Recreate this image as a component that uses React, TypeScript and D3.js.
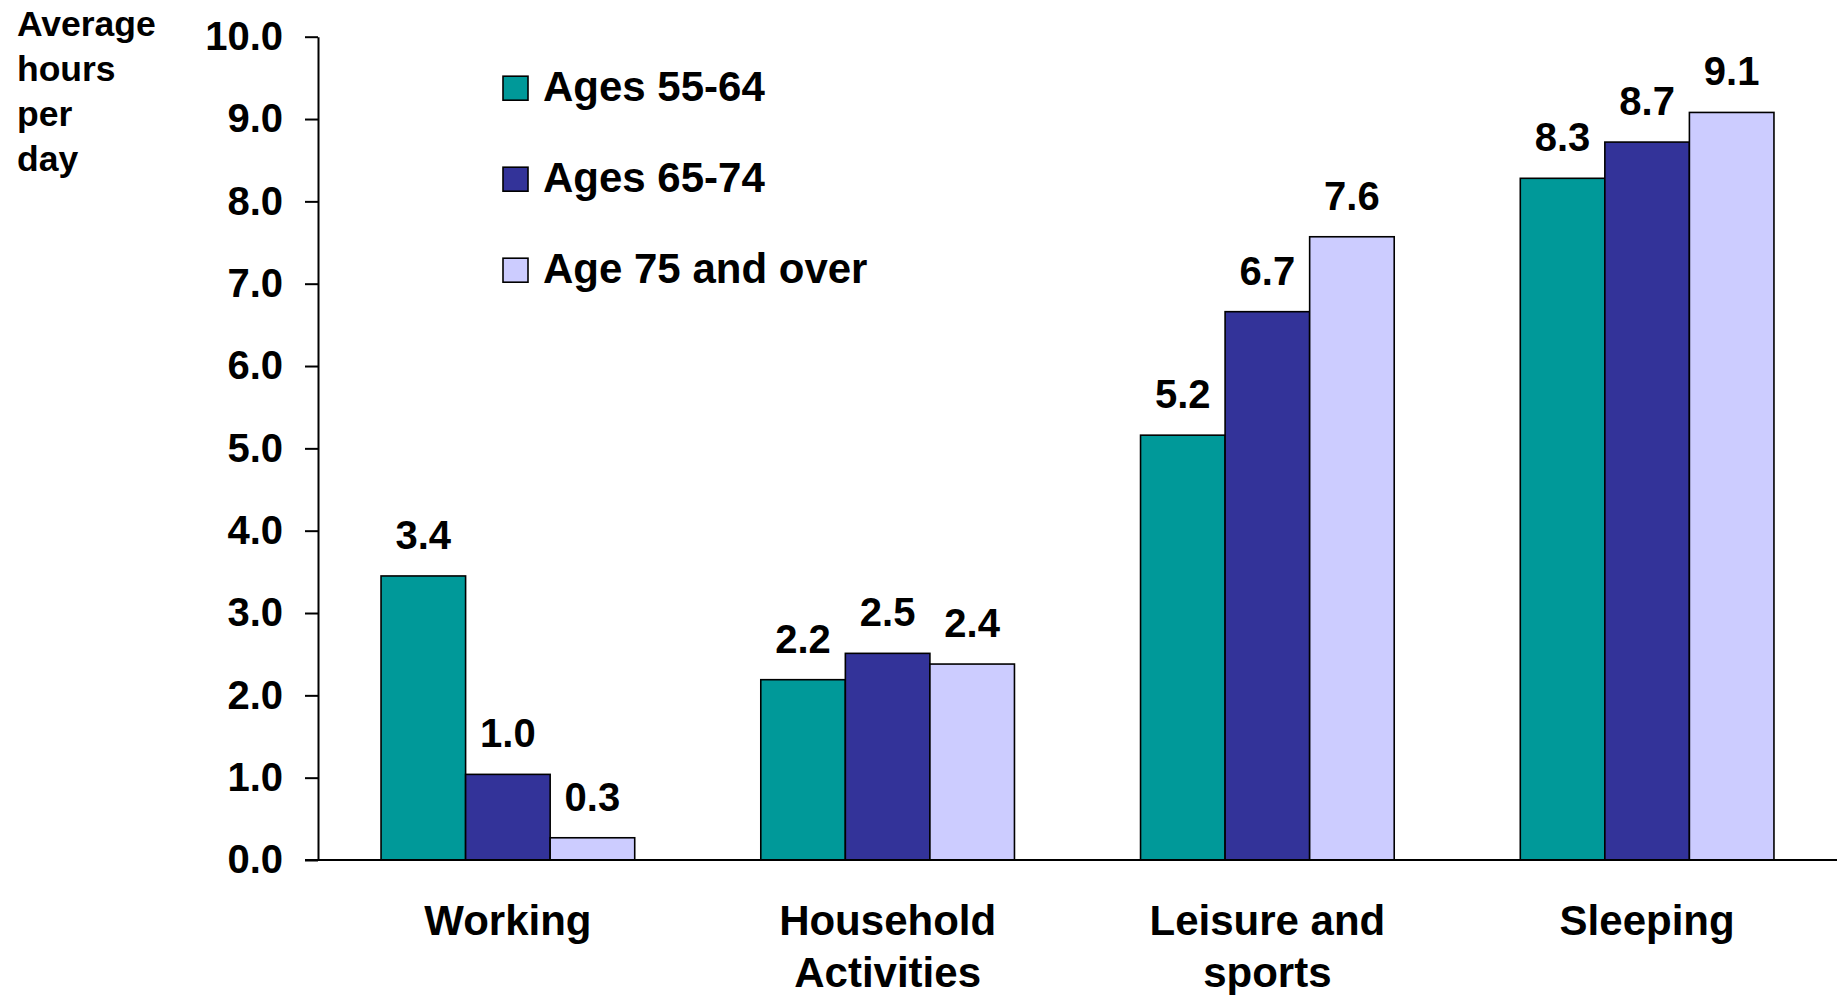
import React, { useEffect, useRef } from 'react';
import * as d3 from 'd3';

const categories = [['Working'], ['Household', 'Activities'], ['Leisure and', 'sports'], ['Sleeping']];
const seriesNames = ['Ages 55-64', 'Ages 65-74', 'Age 75 and over'];
const seriesColors = ['#009999', '#333399', '#CCCCFF'];
const ages5564 = [3.45, 2.19, 5.16, 8.28];
const ages6574 = [1.04, 2.51, 6.66, 8.72];
const ages75 = [0.27, 2.38, 7.57, 9.08];
const valueLabels = [
  ['3.4', '1.0', '0.3'],
  ['2.2', '2.5', '2.4'],
  ['5.2', '6.7', '7.6'],
  ['8.3', '8.7', '9.1'],
];
const yTicks = [0, 1, 2, 3, 4, 5, 6, 7, 8, 9, 10];
const yTitle = ['Average', 'hours', 'per', 'day'];

const W = 1840;
const H = 995;
const font = 'Liberation Sans, Arial, sans-serif';

const App = () => {
  const ref = useRef(null);

  useEffect(() => {
    const svg = d3.select(ref.current);
    svg.selectAll('*').remove();

    const left = 318;
    const right = 1837;
    const y = d3.scaleLinear().domain([0, 10]).range([860, 36.7]);
    const x0 = d3.scaleBand().domain(categories.map((c, i) => String(i))).range([left, right]).paddingInner(0.332).paddingOuter(0.166);
    const x1 = d3.scaleBand().domain(seriesNames).range([0, x0.bandwidth()]);

    const series = [ages5564, ages6574, ages75];

    // bars
    categories.forEach((cat, ci) => {
      const g = svg.append('g').attr('transform', `translate(${x0(String(ci))},0)`);
      seriesNames.forEach((name, si) => {
        const v = series[si][ci];
        g.append('rect')
          .attr('x', x1(name))
          .attr('y', y(v))
          .attr('width', x1.bandwidth())
          .attr('height', y(0) - y(v))
          .attr('fill', seriesColors[si])
          .attr('stroke', '#000')
          .attr('stroke-width', 1.6);
        g.append('text')
          .attr('x', x1(name) + x1.bandwidth() / 2)
          .attr('y', y(v) - 27)
          .attr('text-anchor', 'middle')
          .attr('font-family', font)
          .attr('font-weight', 'bold')
          .attr('font-size', 40)
          .text(valueLabels[ci][si]);
      });
      // category label
      cat.forEach((line, li) => {
        svg.append('text')
          .attr('x', x0(String(ci)) + x0.bandwidth() / 2)
          .attr('y', 935 + li * 52)
          .attr('text-anchor', 'middle')
          .attr('font-family', font)
          .attr('font-weight', 'bold')
          .attr('font-size', 42)
          .text(line);
      });
    });

    // y axis
    const yAxis = svg.append('g')
      .attr('transform', `translate(${left},0)`)
      .call(d3.axisLeft(y).tickValues(yTicks).tickFormat(d3.format('.1f')).tickSize(13).tickSizeOuter(0).tickPadding(22));
    yAxis.select('.domain').attr('stroke', '#000').attr('stroke-width', 2);
    yAxis.selectAll('.tick line').attr('stroke', '#000').attr('stroke-width', 2);
    yAxis.selectAll('.tick text')
      .attr('font-family', font)
      .attr('font-weight', 'bold')
      .attr('font-size', 40)
      .attr('fill', '#000');

    // x axis baseline
    svg.append('line')
      .attr('x1', left - 13).attr('x2', right)
      .attr('y1', y(0)).attr('y2', y(0))
      .attr('stroke', '#000').attr('stroke-width', 2.2);

    // y title
    yTitle.forEach((t, i) => {
      svg.append('text')
        .attr('x', 17)
        .attr('y', 36 + i * 45)
        .attr('font-family', font)
        .attr('font-weight', 'bold')
        .attr('font-size', 35.5)
        .text(t);
    });

    // legend
    seriesNames.forEach((name, i) => {
      const by = 100.7 + i * 91;
      svg.append('rect')
        .attr('x', 503).attr('y', by - 24.5)
        .attr('width', 25).attr('height', 24)
        .attr('fill', seriesColors[i])
        .attr('stroke', '#000').attr('stroke-width', 1.6);
      svg.append('text')
        .attr('x', 543).attr('y', by)
        .attr('font-family', font)
        .attr('font-weight', 'bold')
        .attr('font-size', 42)
        .text(name);
    });
  }, []);

  return (
    <svg ref={ref} width={W} height={H} style={{ position: 'absolute', left: 0, top: 0, background: '#fff' }} />
  );
};

export default App;
